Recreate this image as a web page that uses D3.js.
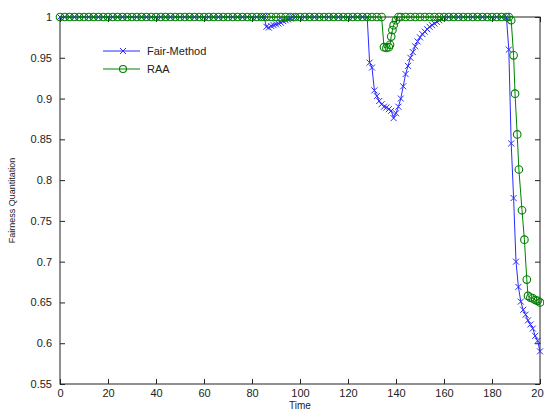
<!DOCTYPE html>
<html>
<head>
<meta charset="utf-8">
<script src="https://cdn.jsdelivr.net/npm/d3@7.9.0/dist/d3.min.js"></script>
<style>
  body { margin: 0; background: #fff; }
  svg { display: block; }
  text { font-family: "Liberation Sans", Arial, sans-serif; fill: #222; }
</style>
</head>
<body>
<div id="chart"></div>
<script>
// Fair-Method series (time, value)
const fairTime = [
  0, 2, 4, 6, 8, 10, 12, 14, 16, 18, 20, 22, 24, 26, 28, 30, 32, 34, 36, 38, 40,
  42, 44, 46, 48, 50, 52, 54, 56, 58, 60, 62, 64, 66, 68, 70, 72, 74, 76, 78, 80,
  82, 84, 85, 86, 87, 88, 89, 90, 91, 92, 93, 94, 95, 96, 97,
  98, 100, 102, 104, 106, 108, 110, 112, 114, 116, 118, 120, 122, 124, 126, 128,
  129, 130, 131, 132, 133, 134, 135, 136, 137, 138, 139, 140, 141, 142, 143, 144,
  145, 146, 147, 148, 149, 150, 151, 152, 153, 154, 155, 156, 157, 158, 159, 160,
  162, 164, 166, 168, 170, 172, 174, 176, 178, 180, 182, 184, 186,
  187, 188, 189, 190, 191, 192, 193, 194, 195, 196, 197, 198, 199, 200
];
const fairValue = [
  1, 1, 1, 1, 1, 1, 1, 1, 1, 1, 1, 1, 1, 1, 1, 1, 1, 1, 1, 1, 1,
  1, 1, 1, 1, 1, 1, 1, 1, 1, 1, 1, 1, 1, 1, 1, 1, 1, 1, 1, 1,
  1, 1, 1, 0.988, 0.987, 0.989, 0.990, 0.991, 0.992, 0.993, 0.995, 0.996, 0.997, 0.998, 1,
  1, 1, 1, 1, 1, 1, 1, 1, 1, 1, 1, 1, 1, 1, 1, 1,
  0.944, 0.938, 0.910, 0.903, 0.897, 0.893, 0.890, 0.889, 0.887, 0.885, 0.876, 0.882, 0.890, 0.900, 0.915, 0.930,
  0.940, 0.950, 0.957, 0.964, 0.970, 0.975, 0.979, 0.982, 0.985, 0.988, 0.990, 0.992, 0.994, 0.996, 0.998, 1,
  1, 1, 1, 1, 1, 1, 1, 1, 1, 1, 1, 1, 1,
  0.960, 0.845, 0.778, 0.700, 0.669, 0.651, 0.641, 0.635, 0.628, 0.623, 0.618, 0.609, 0.603, 0.590
];

// RAA series (time, value)
const raaTime = [
  0, 2, 4, 6, 8, 10, 12, 14, 16, 18, 20, 22, 24, 26, 28, 30, 32, 34, 36, 38, 40,
  42, 44, 46, 48, 50, 52, 54, 56, 58, 60, 62, 64, 66, 68, 70, 72, 74, 76, 78, 80,
  82, 84, 86, 88, 90, 92, 94, 96, 98, 100, 102, 104, 106, 108, 110, 112, 114, 116,
  118, 120, 122, 124, 126, 128, 130, 132, 134,
  135, 136, 137, 137.5, 138, 138.5, 139, 140, 141,
  142, 144, 146, 148, 150, 152, 154, 156, 158, 160, 162, 164, 166, 168, 170, 172,
  174, 176, 178, 180, 182, 184, 186, 187,
  188, 189, 189.6, 190.5, 191.2, 192.5, 193.5, 194.5, 195, 196, 197, 198, 199, 200
];
const raaValue = [
  1, 1, 1, 1, 1, 1, 1, 1, 1, 1, 1, 1, 1, 1, 1, 1, 1, 1, 1, 1, 1,
  1, 1, 1, 1, 1, 1, 1, 1, 1, 1, 1, 1, 1, 1, 1, 1, 1, 1, 1, 1,
  1, 1, 1, 1, 1, 1, 1, 1, 1, 1, 1, 1, 1, 1, 1, 1, 1, 1,
  1, 1, 1, 1, 1, 1, 1, 1, 1,
  0.963, 0.962, 0.963, 0.966, 0.976, 0.984, 0.990, 0.996, 1,
  1, 1, 1, 1, 1, 1, 1, 1, 1, 1, 1, 1, 1, 1, 1, 1,
  1, 1, 1, 1, 1, 1, 1, 1,
  0.996, 0.953, 0.906, 0.856, 0.813, 0.763, 0.727, 0.678, 0.658, 0.656, 0.655, 0.653, 0.652, 0.650
];

const xTicks = [0, 20, 40, 60, 80, 100, 120, 140, 160, 180, 200];
const yTicks = [0.55, 0.6, 0.65, 0.7, 0.75, 0.8, 0.85, 0.9, 0.95, 1];
const legendNames = ['Fair-Method', 'RAA'];

const width = 544, height = 410;
const margin = { top: 17, right: 4, bottom: 26, left: 60 };

const svg = d3.select('#chart').append('svg')
  .attr('width', width)
  .attr('height', height);

const xScale = d3.scaleLinear().domain([0, 200]).range([margin.left, width - margin.right]);
const yScale = d3.scaleLinear().domain([0.55, 1]).range([height - margin.bottom, margin.top]);

const plotLeft = xScale(0), plotRight = xScale(200), plotTop = yScale(1), plotBottom = yScale(0.55);

// axes (MATLAB style, ticks inward, box all round)
const axisColor = '#222';
const fmtY = d => String(+d.toFixed(2));

svg.append('g')
  .attr('transform', `translate(0,${plotBottom})`)
  .call(d3.axisBottom(xScale).tickValues(xTicks).tickSize(-5).tickPadding(5).tickFormat(d3.format('d')))
  .call(g => g.select('.domain').remove());

svg.append('g')
  .attr('transform', `translate(${plotLeft},0)`)
  .call(d3.axisLeft(yScale).tickValues(yTicks).tickSize(-5).tickPadding(8).tickFormat(fmtY))
  .call(g => g.select('.domain').remove());

svg.append('g')
  .attr('transform', `translate(${plotRight},0)`)
  .call(d3.axisRight(yScale).tickValues(yTicks).tickSize(-5).tickFormat(''))
  .call(g => g.select('.domain').remove());

svg.append('g')
  .attr('transform', `translate(0,${plotTop})`)
  .call(d3.axisTop(xScale).tickValues(xTicks).tickSize(-5).tickFormat(''))
  .call(g => g.select('.domain').remove());

svg.selectAll('.tick line').attr('stroke', axisColor);
svg.selectAll('.tick text').style('font-size', '11px').attr('fill', '#222');

svg.append('rect')
  .attr('x', plotLeft).attr('y', plotTop)
  .attr('width', plotRight - plotLeft).attr('height', plotBottom - plotTop)
  .attr('fill', 'none').attr('stroke', axisColor).attr('stroke-width', 1);

// labels
svg.append('text')
  .attr('x', (plotLeft + plotRight) / 2).attr('y', 409)
  .attr('text-anchor', 'middle')
  .style('font-size', '10px')
  .text('Time');

svg.append('text')
  .attr('transform', `translate(15,${(plotTop + plotBottom) / 2}) rotate(-90)`)
  .attr('text-anchor', 'middle')
  .style('font-size', '9px')
  .text('Fairness Quantitation');

const line = d3.line().x(d => xScale(d[0])).y(d => yScale(d[1]));

const fairData = fairTime.map((t, i) => [t, fairValue[i]]);
const raaData = raaTime.map((t, i) => [t, raaValue[i]]);

const blue = '#2b2bff';
const green = '#008000';

function crossPath(x, y, s) {
  return `M${x - s},${y - s}L${x + s},${y + s}M${x - s},${y + s}L${x + s},${y - s}`;
}

// Fair-Method
svg.append('path').datum(fairData)
  .attr('d', line).attr('fill', 'none').attr('stroke', blue).attr('stroke-width', 1);
svg.append('g').selectAll('path')
  .data(fairData).join('path')
  .attr('d', d => crossPath(xScale(d[0]), yScale(d[1]), 3))
  .attr('stroke', blue).attr('stroke-width', 1).attr('fill', 'none');

// RAA
svg.append('path').datum(raaData)
  .attr('d', line).attr('fill', 'none').attr('stroke', green).attr('stroke-width', 1);
svg.append('g').selectAll('circle')
  .data(raaData).join('circle')
  .attr('cx', d => xScale(d[0])).attr('cy', d => yScale(d[1]))
  .attr('r', 3.8)
  .attr('fill', 'none').attr('stroke', green).attr('stroke-width', 1.1);

// legend
const legend = svg.append('g');
const legendY = [51, 69];
const legendColors = [blue, green];
legendNames.forEach((name, i) => {
  const y = legendY[i];
  legend.append('line')
    .attr('x1', 103).attr('x2', 140).attr('y1', y).attr('y2', y)
    .attr('stroke', legendColors[i]).attr('stroke-width', 1);
  if (i === 0) {
    legend.append('path').attr('d', crossPath(123, y, 3))
      .attr('stroke', blue).attr('fill', 'none');
  } else {
    legend.append('circle').attr('cx', 123).attr('cy', y).attr('r', 3.5)
      .attr('stroke', green).attr('stroke-width', 1.1).attr('fill', 'none');
  }
  legend.append('text')
    .attr('x', 147).attr('y', y + 4)
    .style('font-size', '11px')
    .text(name);
});
</script>
</body>
</html>
